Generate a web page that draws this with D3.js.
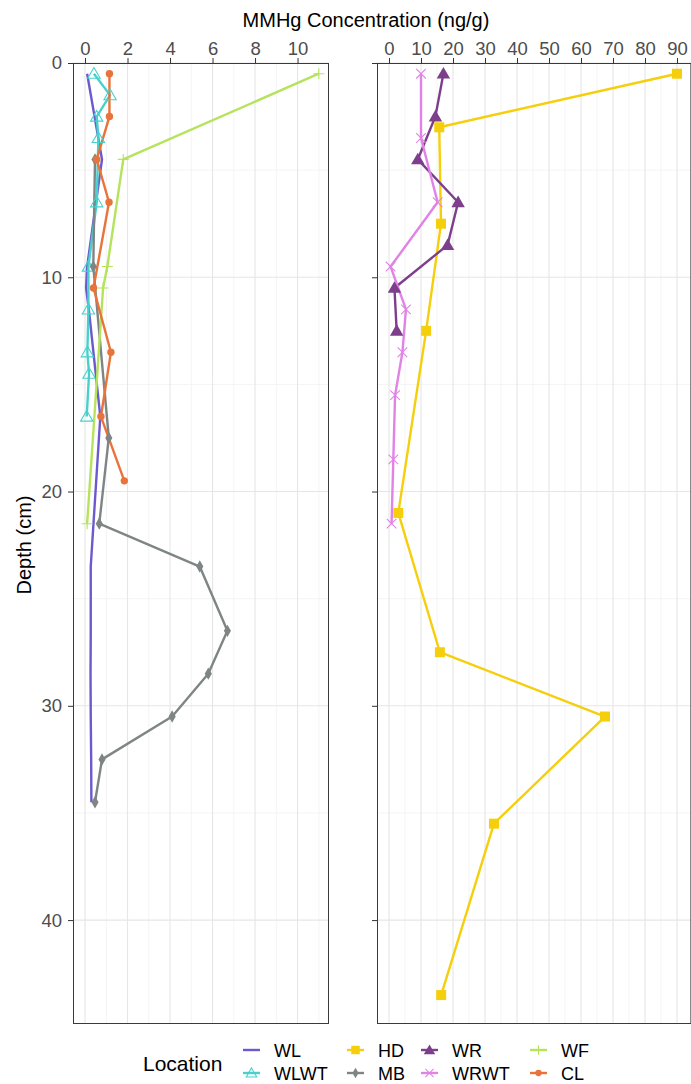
<!DOCTYPE html>
<html>
<head>
<meta charset="utf-8">
<script src="https://cdn.jsdelivr.net/npm/d3@7"></script>
<style>
  html, body { margin: 0; padding: 0; background: #fff; }
  svg { display: block; font-family: "Liberation Sans", Arial, sans-serif; }
</style>
</head>
<body>
<svg id="chart" width="691" height="1084"></svg>
<script>
// Depth profiles of MMHg concentration (ng/g) by sampling location
const wlDepth   = [0.5, 4.5, 9.5, 10.5, 11.5, 16.5, 23.5, 26.5, 28.5, 30.5, 32.5, 34.5];
const wlMMHg    = [0.1, 0.8, 0.1, 0.05, 0.18, 0.72, 0.27, 0.27, 0.26, 0.27, 0.29, 0.3];

const wlwtDepth = [0.5, 1.5, 2.5, 3.5, 6.5, 9.5, 11.5, 13.5, 14.5, 16.5];
const wlwtMMHg  = [0.42, 1.18, 0.55, 0.63, 0.55, 0.16, 0.16, 0.11, 0.19, 0.08];

const mbDepth   = [4.5, 9.5, 17.5, 21.5, 23.5, 26.5, 28.5, 30.5, 32.5, 34.5];
const mbMMHg    = [0.47, 0.39, 1.12, 0.67, 5.4, 6.7, 5.8, 4.1, 0.8, 0.47];

const wfDepth   = [0.5, 4.5, 9.5, 10.5, 21.5];
const wfMMHg    = [11.0, 1.8, 1.05, 0.85, 0.1];

const clDepth   = [0.5, 2.5, 4.5, 6.5, 10.5, 13.5, 16.5, 19.5];
const clMMHg    = [1.15, 1.15, 0.55, 1.13, 0.4, 1.22, 0.75, 1.85];

const hdDepth   = [0.5, 3, 7.5, 12.5, 21, 27.5, 30.5, 35.5, 43.5];
const hdMMHg    = [90, 15.7, 16.25, 11.6, 2.9, 15.9, 67.5, 32.8, 16.3];

const wrDepth   = [0.5, 2.5, 4.5, 6.5, 8.5, 10.5, 12.5];
const wrMMHg    = [17, 14.5, 9, 21.6, 18.3, 1.7, 2.4];

const wrwtDepth = [0.5, 3.5, 6.5, 9.5, 11.5, 13.5, 15.5, 18.5, 21.5];
const wrwtMMHg  = [10, 10, 15.2, 0.5, 5.3, 4.2, 1.9, 1.35, 0.8];

const locations   = ["WL", "WLWT", "HD", "MB", "WR", "WRWT", "WF", "CL"];
const leftTicks   = [0, 2, 4, 6, 8, 10];
const rightTicks  = [0, 10, 20, 30, 40, 50, 60, 70, 80, 90];
const depthTicks  = [0, 10, 20, 30, 40];

// Series styling: colour and marker per location
const style = {
  WL:   { color: "#6a5acd", shape: null },
  WLWT: { color: "#48d1cc", shape: "triangleOpen" },
  HD:   { color: "#f5cf0c", shape: "square" },
  MB:   { color: "#7f8585", shape: "diamond" },
  WR:   { color: "#7d3f8c", shape: "triangle" },
  WRWT: { color: "#e183e6", shape: "x" },
  WF:   { color: "#b5e35b", shape: "plus" },
  CL:   { color: "#e8743b", shape: "circle" }
};

const series = [
  { name: "WL",   panel: 0, depth: wlDepth,   value: wlMMHg },
  { name: "WLWT", panel: 0, depth: wlwtDepth, value: wlwtMMHg },
  { name: "HD",   panel: 1, depth: hdDepth,   value: hdMMHg },
  { name: "MB",   panel: 0, depth: mbDepth,   value: mbMMHg },
  { name: "WR",   panel: 1, depth: wrDepth,   value: wrMMHg },
  { name: "WRWT", panel: 1, depth: wrwtDepth, value: wrwtMMHg },
  { name: "WF",   panel: 0, depth: wfDepth,   value: wfMMHg },
  { name: "CL",   panel: 0, depth: clDepth,   value: clMMHg }
];

const svg = d3.select("#chart");
const plotTop = 63, plotBottom = 1024;

const y = d3.scaleLinear().domain([0, 44.85]).range([plotTop, plotBottom]);

const panels = [
  { x: d3.scaleLinear().domain([-0.565, 11.48]).range([73, 329]), ticks: leftTicks, labels: true },
  { x: d3.scaleLinear().domain([-3.75, 94.5]).range([377, 691.4]), ticks: rightTicks, labels: false }
];

function minorTicks(ticks, domain) {
  const step = ticks[1] - ticks[0];
  const out = [];
  for (let v = ticks[0] - step / 2; v <= domain[1]; v += step) {
    if (v >= domain[0]) out.push(v);
  }
  return out;
}

const depthMinor = minorTicks(depthTicks, y.domain());

panels.forEach((p, i) => {
  const g = svg.append("g");
  const [x0, x1] = p.x.range();
  g.append("rect").attr("x", x0).attr("y", plotTop).attr("width", x1 - x0).attr("height", plotBottom - plotTop)
    .attr("fill", "#fff");

  // minor grid
  minorTicks(p.ticks, p.x.domain()).forEach(v => {
    g.append("line").attr("x1", p.x(v)).attr("x2", p.x(v)).attr("y1", plotTop).attr("y2", plotBottom)
      .attr("stroke", "#f1f1f1").attr("stroke-width", 0.8);
  });
  depthMinor.forEach(v => {
    g.append("line").attr("x1", x0).attr("x2", x1).attr("y1", y(v)).attr("y2", y(v))
      .attr("stroke", "#f1f1f1").attr("stroke-width", 0.8);
  });
  // major grid
  p.ticks.forEach(v => {
    g.append("line").attr("x1", p.x(v)).attr("x2", p.x(v)).attr("y1", plotTop).attr("y2", plotBottom)
      .attr("stroke", "#e6e6e6").attr("stroke-width", 1.1);
  });
  depthTicks.forEach(v => {
    g.append("line").attr("x1", x0).attr("x2", x1).attr("y1", y(v)).attr("y2", y(v))
      .attr("stroke", "#e6e6e6").attr("stroke-width", 1.1);
  });

  // top axis
  const xAxis = d3.axisTop(p.x).tickValues(p.ticks).tickSize(5).tickPadding(3).tickFormat(d3.format("d"));
  const ax = svg.append("g").attr("transform", `translate(0,${plotTop})`).call(xAxis);
  ax.select(".domain").remove();
  ax.selectAll(".tick line").attr("stroke", "#333");
  ax.selectAll(".tick text").attr("fill", "#4d4d4d").style("font-size", "18.5px")
    .style("font-family", "'Liberation Sans', Arial, sans-serif");

  // left axis (labels only on first panel)
  const yAxis = d3.axisLeft(y).tickValues(depthTicks).tickSize(5).tickPadding(6)
    .tickFormat(p.labels ? d3.format("d") : () => "");
  const ay = svg.append("g").attr("transform", `translate(${x0},0)`).call(yAxis);
  ay.select(".domain").remove();
  ay.selectAll(".tick line").attr("stroke", "#333");
  ay.selectAll(".tick text").attr("fill", "#4d4d4d").style("font-size", "18.5px")
    .style("font-family", "'Liberation Sans', Arial, sans-serif");

  // panel border
  svg.append("rect").attr("x", x0 + 0.5).attr("y", plotTop + 0.5)
    .attr("width", x1 - x0 - 1).attr("height", plotBottom - plotTop - 1)
    .attr("fill", "none").attr("stroke", "#3a3a3a").attr("stroke-width", 1);
});

// marker drawing
function drawMarker(sel, shape, color, cx, cy, scale) {
  const k = scale || 1;
  const t = `translate(${cx},${cy})`;
  switch (shape) {
    case "circle":
      sel.append("circle").attr("cx", cx).attr("cy", cy).attr("r", 3.7 * k).attr("fill", color);
      break;
    case "square":
      sel.append("path").attr("transform", t)
        .attr("d", d3.symbol(d3.symbolSquare, 100 * k * k)()).attr("fill", color);
      break;
    case "diamond":
      sel.append("path").attr("transform", t)
        .attr("d", d3.symbol(d3.symbolDiamond, 44 * k * k)()).attr("fill", color);
      break;
    case "triangle":
      sel.append("path").attr("transform", `translate(${cx},${cy + 1})`)
        .attr("d", d3.symbol(d3.symbolTriangle, 78 * k * k)()).attr("fill", color);
      break;
    case "triangleOpen":
      sel.append("path").attr("transform", `translate(${cx},${cy + 1})`)
        .attr("d", d3.symbol(d3.symbolTriangle, 66 * k * k)())
        .attr("fill", "none").attr("stroke", color).attr("stroke-width", 1.1);
      break;
    case "x": {
      const r = 4.8 * k;
      sel.append("path").attr("transform", t)
        .attr("d", `M${-r},${-r}L${r},${r}M${-r},${r}L${r},${-r}`)
        .attr("stroke", color).attr("stroke-width", 1.1).attr("fill", "none");
      break;
    }
    case "plus": {
      const r = 5.5 * k;
      sel.append("path").attr("transform", t)
        .attr("d", `M${-r},0L${r},0M0,${-r}L0,${r}`)
        .attr("stroke", color).attr("stroke-width", 1.1).attr("fill", "none");
      break;
    }
  }
}

// lines
const plot = svg.append("g");
series.forEach(s => {
  const p = panels[s.panel];
  const pts = s.depth.map((d, i) => [p.x(s.value[i]), y(d)]);
  plot.append("path")
    .attr("d", d3.line()(pts))
    .attr("fill", "none")
    .attr("stroke", style[s.name].color)
    .attr("stroke-width", 2.4)
    .attr("stroke-linejoin", "round");
});
// points
series.forEach(s => {
  const p = panels[s.panel];
  const st = style[s.name];
  if (!st.shape) return;
  s.depth.forEach((d, i) => drawMarker(plot, st.shape, st.color, p.x(s.value[i]), y(d)));
});

// axis titles
svg.append("text").attr("x", 366).attr("y", 27).attr("text-anchor", "middle")
  .style("font-size", "20px").attr("fill", "#000").text("MMHg Concentration (ng/g)");
svg.append("text").attr("transform", "translate(31,545) rotate(-90)").attr("text-anchor", "middle")
  .style("font-size", "20px").attr("fill", "#000").text("Depth (cm)");

// legend
const legend = svg.append("g");
legend.append("text").attr("x", 143).attr("y", 1071).style("font-size", "21px").attr("fill", "#000")
  .text("Location");
const colX = [243, 347, 421, 530];
const rowY = [1050, 1073];
locations.forEach((name, i) => {
  const col = Math.floor(i / 2), row = i % 2;
  const kx = colX[col], ky = rowY[row];
  const st = style[name];
  legend.append("line").attr("x1", kx).attr("x2", kx + 17).attr("y1", ky).attr("y2", ky)
    .attr("stroke", st.color).attr("stroke-width", 2.4);
  if (st.shape) drawMarker(legend, st.shape, st.color, kx + 8.5, ky, 0.85);
  legend.append("text").attr("x", kx + 31).attr("y", ky + 6.5).style("font-size", "18px")
    .attr("fill", "#000").text(name);
});
</script>
</body>
</html>
